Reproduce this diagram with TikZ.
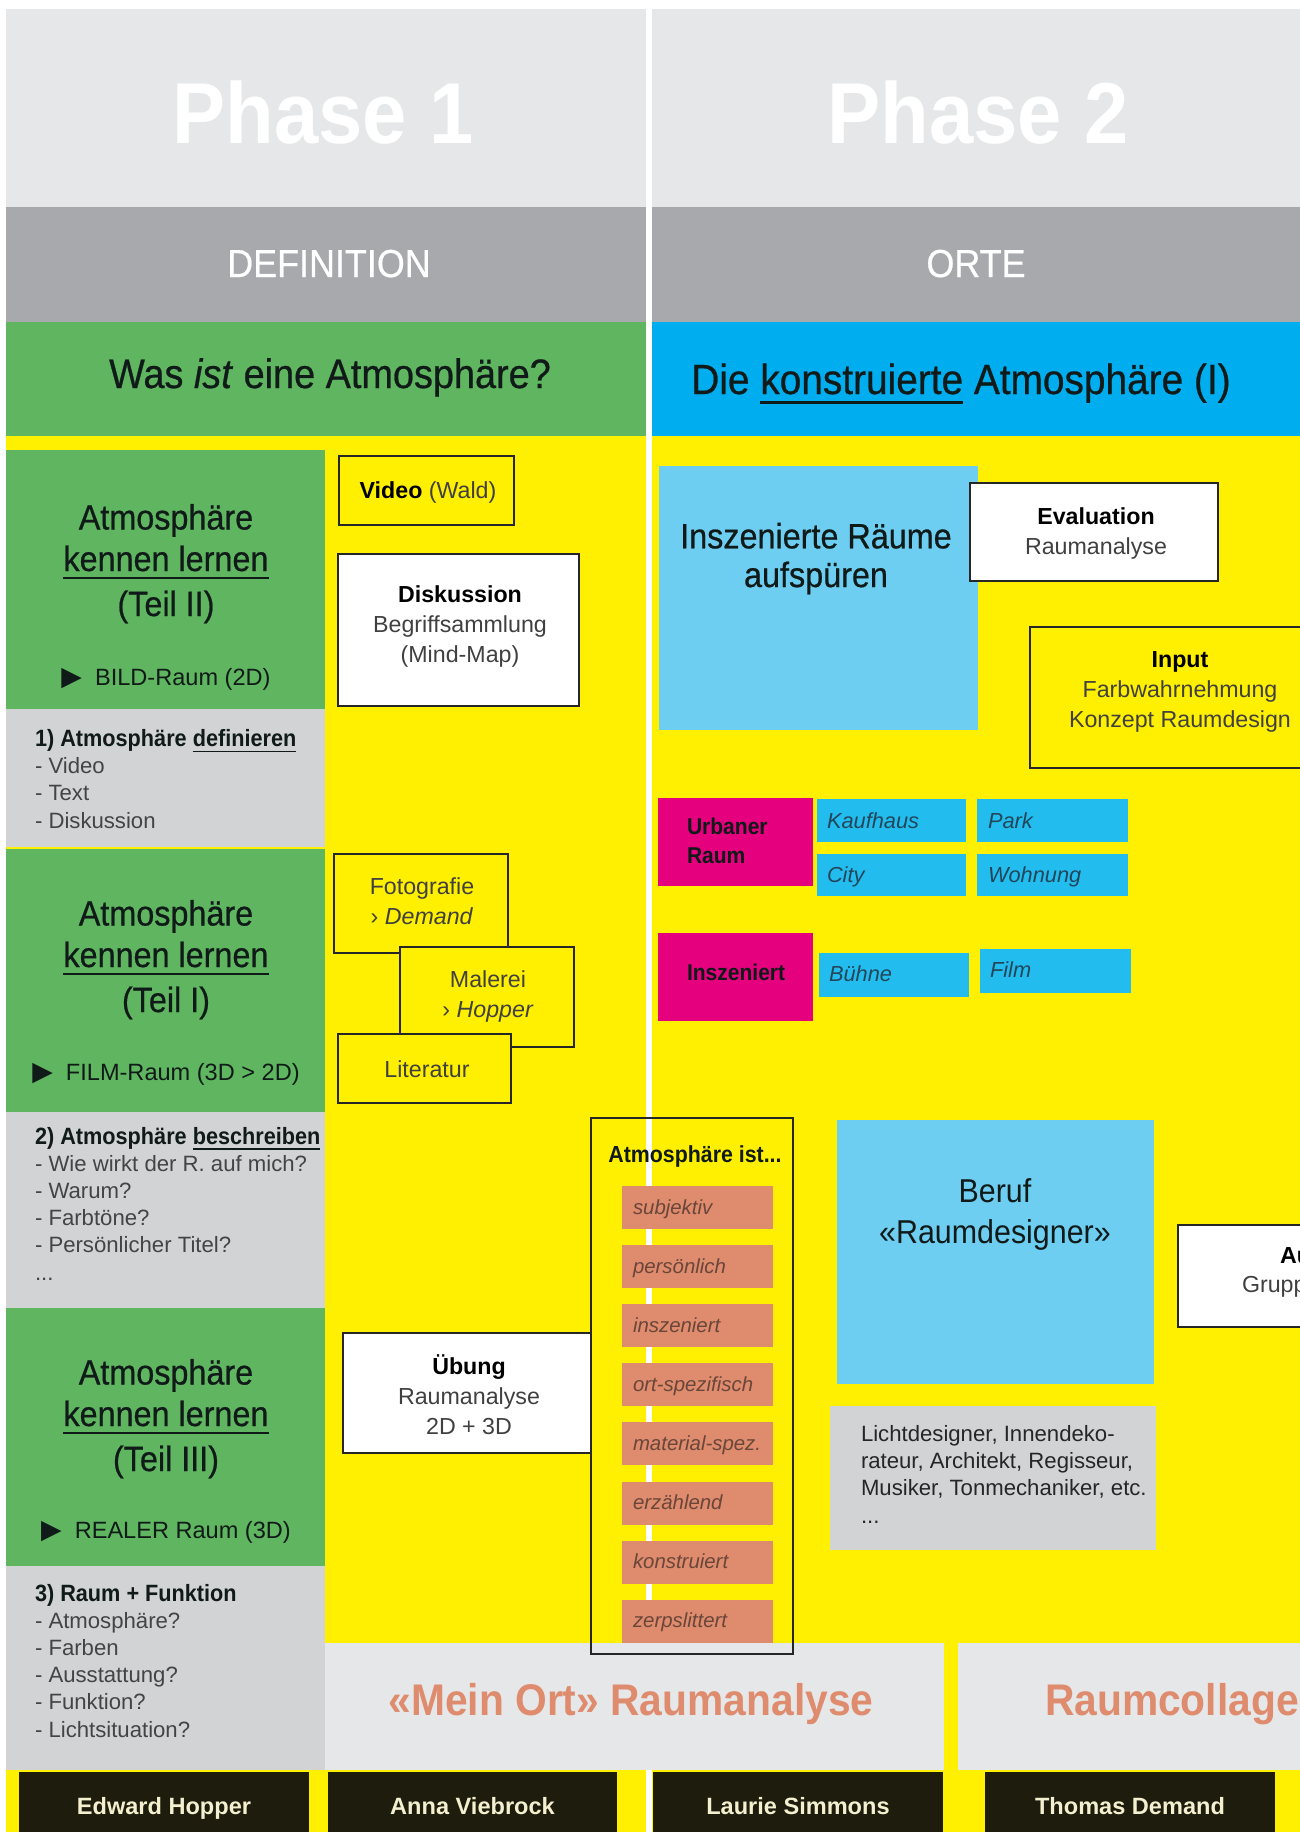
\documentclass[tikz,border=0pt]{standalone}
\usepackage{fontspec}
\setmainfont{Liberation Sans}
\newfontfamily\dinfont[FakeStretch=0.92]{Liberation Sans}
\newfontfamily\dinmittel[FakeStretch=0.92, FakeBold=0.6]{Liberation Sans}
\newfontfamily\symfont{DejaVu Sans}

\definecolor{hellgrau}{HTML}{E6E7E8}
\definecolor{mittelgrau}{HTML}{A7A9AC}
\definecolor{blockgrau}{HTML}{D1D3D4}
\definecolor{gruen}{HTML}{60B660}
\definecolor{gelb}{HTML}{FFEF00}
\definecolor{cyanband}{HTML}{00AEEF}
\definecolor{hellblau}{HTML}{6ECEF2}
\definecolor{kachel}{HTML}{22BDEE}
\definecolor{magentarot}{HTML}{E5007E}
\definecolor{lachs}{HTML}{DE8C6D}
\definecolor{nacht}{HTML}{1E1C0C}
\definecolor{creme}{HTML}{F3EFCF}
\definecolor{tinte}{HTML}{101A18}
\definecolor{listgrau}{HTML}{444444}
\definecolor{kachelschrift}{HTML}{23465A}
\definecolor{lachsschrift}{HTML}{6A463A}

\newcommand{\schrift}[2]{\fontsize{#1}{#2}\selectfont}
\newcommand{\strich}[1]{\setbox0=\hbox{#1}\rlap{\rule[-0.24em]{\wd0}{0.08em}}\box0\relax}
\newcommand{\fett}[1]{{\bfseries\color{black}#1}}
\newcommand{\ueber}[1]{{\dinfont\bfseries\schrift{6.7}{7.7}\color{tinte}#1}}
\newcommand{\dreieck}{{\symfont\schrift{7.6}{7.6}▶}}

\tikzset{
  phase/.style={text=white, font=\dinfont\bfseries\schrift{24.6}{28}},
  kopf/.style={text=white, font=\dinmittel\schrift{11.1}{13}},
  frage/.style={text=tinte, font=\dinmittel\schrift{11.7}{14}},
  gross/.style={text=tinte, align=center, font=\dinmittel\schrift{10}{11.8}},
  pfeilzeile/.style={text=tinte, font=\schrift{6.7}{8}},
  liste/.style={text=listgrau, align=left, font=\schrift{6.3}{7.7}},
  kasten/.style={draw=black!85, line width=0.75pt},
  boxtext/.style={text=black!75, align=center, font=\schrift{6.6}{8.4}},
  rubrik/.style={text=tinte, align=left, font=\dinfont\bfseries\schrift{6.5}{8}},
  kacheltext/.style={text=kachelschrift, font=\itshape\schrift{6.2}{7}},
  eigenschaft/.style={text=lachsschrift, font=\itshape\schrift{5.8}{7}},
  beruf/.style={text=tinte, align=center, font=\dinfont\schrift{9.4}{11.4}},
  ortband/.style={text=lachs, font=\dinfont\bfseries\schrift{12.6}{14}},
  kuenstler/.style={text=creme, font=\bfseries\schrift{6.7}{8}},
}

\begin{document}
\begin{tikzpicture}[x=0.01cm, y=-0.01cm, every node/.style={inner sep=0pt, outer sep=0pt}]
\useasboundingbox (0,0) rectangle (1300,1832);
\clip (0,0) rectangle (1300,1832);

% Background bands
\fill[white] (0,0) rectangle (1300,1832);
\fill[hellgrau] (6,9) rectangle (1300,207);
\fill[mittelgrau] (6,207) rectangle (1300,322);
\fill[gruen] (6,322) rectangle (646,436);
\fill[cyanband] (652,322) rectangle (1300,436);
\fill[gelb] (6,436) rectangle (1300,1832);
\fill[white] (646,0) rectangle (652,1832);

% Headers
\node[phase, anchor=base] (phase1) at (323,143) {Phase 1};
\node[phase, anchor=base] (phase2) at (978,143) {Phase 2};
\node[kopf, anchor=base] (definition) at (329,277) {DEFINITION};
\node[kopf, anchor=base] (orte) at (976,277) {ORTE};
\node[frage, anchor=base] (frage) at (330,388) {Was \textit{ist} eine Atmosphäre?};
\node[frage, anchor=base, font=\dinmittel\schrift{12}{14}] (konstruiert) at (961,394) {Die \strich{konstruierte} Atmosphäre (I)};

% Teil II (base = last line)
\begin{scope}[shift={(0,450)}]
  \fill[gruen] (6,0) rectangle (325,259);
  \fill[blockgrau] (6,259) rectangle (325,397);
  \node[gross, anchor=base] (teil2) at (166,166) {Atmosphäre\\\strich{kennen lernen}\\[1pt](Teil II)};
  \node[pfeilzeile, anchor=base] (bild) at (166,235) {\dreieck\ \ BILD-Raum (2D)};
  \node[liste, anchor=base west] (definieren) at (35,378) {\ueber{1) Atmosphäre \strich{definieren}}\\- Video\\- Text\\- Diskussion};
\end{scope}

% Teil I
\begin{scope}[shift={(0,849)}]
  \fill[gruen] (6,0) rectangle (325,263);
  \fill[blockgrau] (6,263) rectangle (325,459);
  \node[gross, anchor=base] (teil1) at (166,163) {Atmosphäre\\\strich{kennen lernen}\\[1pt](Teil I)};
  \node[pfeilzeile, anchor=base] (film) at (166,231) {\dreieck\ \ FILM-Raum (3D > 2D)};
  \node[liste, anchor=base west] (beschreiben) at (35,431) {\ueber{2) Atmosphäre \strich{beschreiben}}\\- Wie wirkt der R. auf mich?\\- Warum?\\- Farbtöne?\\- Persönlicher Titel?\\...};
\end{scope}

% Teil III
\begin{scope}[shift={(0,1308)}]
  \fill[gruen] (6,0) rectangle (325,258);
  \fill[blockgrau] (6,258) rectangle (325,462);
  \node[gross, anchor=base] (teil3) at (166,163) {Atmosphäre\\\strich{kennen lernen}\\[1pt](Teil III)};
  \node[pfeilzeile, anchor=base] (real) at (166,230) {\dreieck\ \ REALER Raum (3D)};
  \node[liste, anchor=base west] (funktion) at (35,429) {\ueber{3) Raum + Funktion}\\- Atmosphäre?\\- Farben\\- Ausstattung?\\- Funktion?\\- Lichtsituation?};
\end{scope}

% Phase 1 boxes
\draw[kasten] (339,456) rectangle (514,525);
\node[boxtext, anchor=base] (video) at (428,498) {\fett{Video} (Wald)};
\draw[kasten, fill=white] (338,554) rectangle (579,706);
\node[boxtext, anchor=base] (diskussion) at (460,662) {\fett{Diskussion}\\Begriffsammlung\\(Mind-Map)};
\draw[kasten, fill=gelb] (334,854) rectangle (508,953);
\node[boxtext, anchor=base] (fotografie) at (422,924) {Fotografie\\› \textit{Demand}};
\draw[kasten, fill=gelb] (400,947) rectangle (574,1047);
\node[boxtext, anchor=base] (malerei) at (488,1017) {Malerei\\› \textit{Hopper}};
\draw[kasten, fill=gelb] (338,1034) rectangle (511,1103);
\node[boxtext, anchor=base] (literatur) at (427,1077) {Literatur};
\draw[kasten, fill=white] (343,1333) rectangle (591,1453);
\node[boxtext, anchor=base] (uebung) at (469,1434) {\fett{Übung}\\Raumanalyse\\2D + 3D};

% Phase 2 boxes
\fill[hellblau] (659,466) rectangle (978,730);
\node[gross, anchor=base, font=\dinmittel\schrift{10}{11}] (aufspueren) at (816,587) {Inszenierte Räume\\aufspüren};
\draw[kasten, fill=white] (970,483) rectangle (1218,581);
\node[boxtext, anchor=base] (evaluation) at (1096,554) {\fett{Evaluation}\\Raumanalyse};
\draw[kasten] (1030,627) rectangle (1320,768);
\node[boxtext, anchor=base] (input) at (1180,727) {\fett{Input}\\Farbwahrnehmung\\Konzept Raumdesign};

% Orte
\fill[magentarot] (658,798) rectangle (813,886);
\node[rubrik, anchor=base west] (urban) at (687,863) {Urbaner\\Raum};
\fill[kachel] (817,799) rectangle (966,842);
\fill[kachel] (977,799) rectangle (1128,842);
\fill[kachel] (817,854) rectangle (966,896);
\fill[kachel] (977,854) rectangle (1128,896);
\node[kacheltext, anchor=base west] (kaufhaus) at (827,828) {Kaufhaus};
\node[kacheltext, anchor=base west] (park) at (988,828) {Park};
\node[kacheltext, anchor=base west] (city) at (827,882) {City};
\node[kacheltext, anchor=base west] (wohnung) at (988,882) {Wohnung};
\fill[magentarot] (658,933) rectangle (813,1021);
\node[rubrik, anchor=base west] (inszeniert) at (687,980) {Inszeniert};
\fill[kachel] (819,953) rectangle (969,997);
\fill[kachel] (980,949) rectangle (1131,993);
\node[kacheltext, anchor=base west] (buehne) at (829,981) {Bühne};
\node[kacheltext, anchor=base west] (film2) at (990,977) {Film};

% Beruf
\fill[hellblau] (837,1120) rectangle (1154,1384);
\node[beruf, anchor=base] (raumdesigner) at (995,1243) {Beruf\\«Raumdesigner»};
\fill[blockgrau] (830,1406) rectangle (1156,1550);
\node[liste, anchor=base west, text=black!85] (berufe) at (861,1523) {Lichtdesigner, Innendeko-\\rateur, Architekt, Regisseur,\\Musiker, Tonmechaniker, etc.\\...};
\draw[kasten, fill=white] (1178,1225) rectangle (1320,1327);
\node[boxtext, anchor=base west] (au) at (1280,1263) {\fett{Au}};
\node[boxtext, anchor=base west] (grupp) at (1242,1292) {Grupp};

% Bottom bands
\fill[hellgrau] (325,1643) rectangle (944,1770);
\fill[hellgrau] (958,1643) rectangle (1310,1770);
\node[ortband, anchor=base] (meinort) at (631,1715) {«Mein Ort» Raumanalyse};
\node[ortband, anchor=base west] (collage) at (1045,1715) {Raumcollage};

% Atmosphaere ist...
\draw[kasten] (591,1118) rectangle (793,1654);
\node[anchor=base, text=tinte, font=\dinfont\bfseries\schrift{6.6}{8}] (atmoist) at (695,1162) {Atmosphäre ist...};
\foreach \wort [count=\i from 0] in {subjektiv, persönlich, inszeniert, ort-spezifisch, material-spez., erzählend, konstruiert, zerpslittert}
{
  \fill[lachs] (622,1186+59.1*\i) rectangle (773,1229+59.1*\i);
  \node[eigenschaft, anchor=base west] (eig\i) at (633,1214+59.1*\i) {\wort};
}

% Artists
\foreach \links/\rechts/\kname [count=\k] in {19/309/Edward Hopper, 328/617/Anna Viebrock, 653/943/Laurie Simmons, 985/1275/Thomas Demand}
{
  \fill[nacht] (\links,1772) rectangle (\rechts,1840);
  \node[kuenstler, anchor=base] (kuenstler\k) at ({(\links+\rechts)/2},1814) {\kname};
}
\end{tikzpicture}
\end{document}
